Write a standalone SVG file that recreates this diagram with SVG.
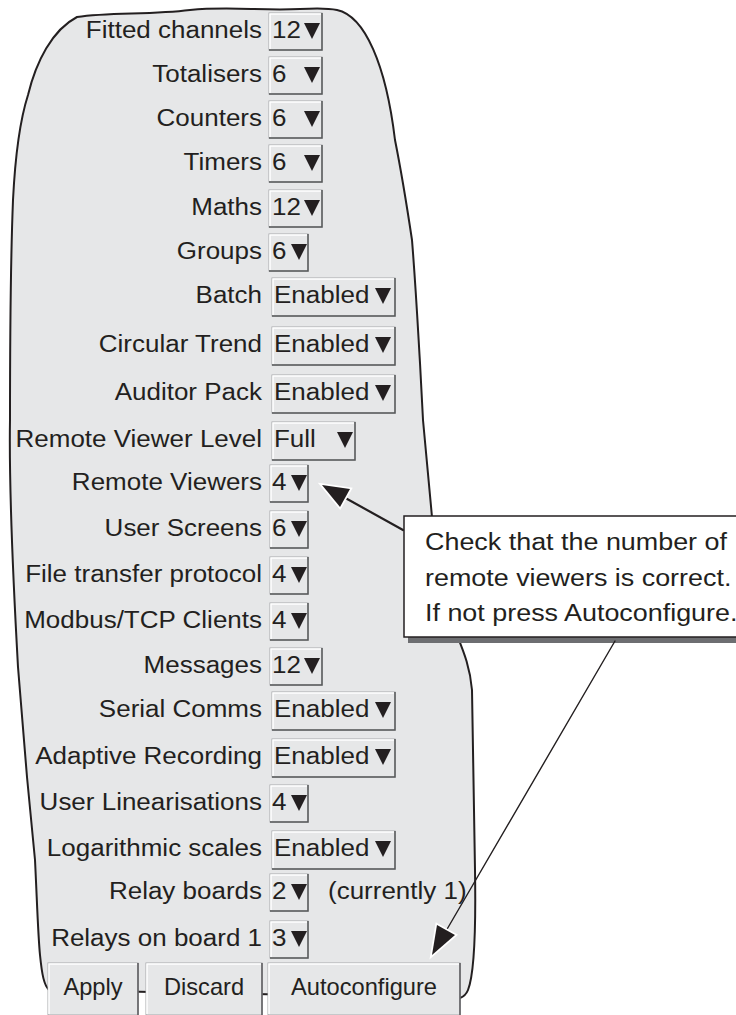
<svg xmlns="http://www.w3.org/2000/svg" width="736" height="1015" viewBox="0 0 736 1015">
<style>
.t{font-family:"Liberation Sans",Arial,Helvetica,sans-serif;font-size:23px;fill:#231f20}
.e{text-anchor:end}
.m{text-anchor:middle}
.fld{fill:#e6e7e8;stroke:#a7a9ac;stroke-width:1}
.hi{fill:none;stroke:#ffffff;stroke-width:1.5}
.sh{fill:none;stroke:#58595b;stroke-width:1.5}
.tri{fill:#231f20}
.panel{fill:#e6e7e8;stroke:#231f20;stroke-width:2}
.btn{fill:#e6e7e8;stroke:#a7a9ac;stroke-width:1}
.ln{fill:none;stroke:#231f20;stroke-linecap:round}
.head{fill:#231f20;stroke:#ffffff;stroke-width:3.5;stroke-linejoin:miter;paint-order:stroke}
</style>
<rect x="0" y="0" width="736" height="1015" fill="#ffffff"/>
<g id="panel">
<path class="panel" d="M77,17 C110,12 150,15 190,10 C230,6 260,11 300,9 C318,8 328,8 337,10 C365,16 386,65 395,140 C401,170 406,200 412,240 C416,290 418,330 420,363 L423,420 L432,517 L455,630 C462,648 470,665 472,690 L475,870 C476,930 474,975 468,990 C466,995 463,997 460,998 L49,990 C44,985 42,975 40,955 C38,935 37,900 35,860 L27,777 L18,667 C12,560 9,480 10,420 C10,320 11,250 13,200 C15,160 20,120 28,95 C36,62 52,30 77,17 Z"/>
</g>
<g id="row-fitted-channels">
<text class="t e" transform="translate(262,38) scale(1.13,1)">Fitted channels</text>
<rect class="fld" x="269" y="13" width="53" height="37"/><path class="hi" d="M270,49 V14 H321"/><path class="sh" d="M322,13 V50 H269"/>
<text class="t" transform="translate(272,38) scale(1.13,1)">12</text>
<polygon class="tri" points="304,23 320,23 312,39"/>
</g>
<g id="row-totalisers">
<text class="t e" transform="translate(262,82) scale(1.13,1)">Totalisers</text>
<rect class="fld" x="269" y="57" width="53" height="37"/><path class="hi" d="M270,93 V58 H321"/><path class="sh" d="M322,57 V94 H269"/>
<text class="t" transform="translate(272,82) scale(1.13,1)">6</text>
<polygon class="tri" points="304,67 320,67 312,83"/>
</g>
<g id="row-counters">
<text class="t e" transform="translate(262,126) scale(1.13,1)">Counters</text>
<rect class="fld" x="269" y="101" width="53" height="37"/><path class="hi" d="M270,137 V102 H321"/><path class="sh" d="M322,101 V138 H269"/>
<text class="t" transform="translate(272,126) scale(1.13,1)">6</text>
<polygon class="tri" points="304,111 320,111 312,127"/>
</g>
<g id="row-timers">
<text class="t e" transform="translate(262,170) scale(1.13,1)">Timers</text>
<rect class="fld" x="269" y="145" width="53" height="37"/><path class="hi" d="M270,181 V146 H321"/><path class="sh" d="M322,145 V182 H269"/>
<text class="t" transform="translate(272,170) scale(1.13,1)">6</text>
<polygon class="tri" points="304,155 320,155 312,171"/>
</g>
<g id="row-maths">
<text class="t e" transform="translate(262,215) scale(1.13,1)">Maths</text>
<rect class="fld" x="269" y="190" width="53" height="37"/><path class="hi" d="M270,226 V191 H321"/><path class="sh" d="M322,190 V227 H269"/>
<text class="t" transform="translate(272,215) scale(1.13,1)">12</text>
<polygon class="tri" points="304,200 320,200 312,216"/>
</g>
<g id="row-groups">
<text class="t e" transform="translate(262,259) scale(1.13,1)">Groups</text>
<rect class="fld" x="269" y="234" width="39" height="37"/><path class="hi" d="M270,270 V235 H307"/><path class="sh" d="M308,234 V271 H269"/>
<text class="t" transform="translate(272,259) scale(1.13,1)">6</text>
<polygon class="tri" points="291,244 307,244 299,260"/>
</g>
<g id="row-batch">
<text class="t e" transform="translate(262,303) scale(1.13,1)">Batch</text>
<rect class="fld" x="272" y="278" width="123" height="38"/><path class="hi" d="M273,315 V279 H394"/><path class="sh" d="M395,278 V316 H272"/>
<text class="t" transform="translate(274,303) scale(1.13,1)">Enabled</text>
<polygon class="tri" points="375,288 391,288 383,304"/>
</g>
<g id="row-circular-trend">
<text class="t e" transform="translate(262,352) scale(1.13,1)">Circular Trend</text>
<rect class="fld" x="272" y="327" width="123" height="38"/><path class="hi" d="M273,364 V328 H394"/><path class="sh" d="M395,327 V365 H272"/>
<text class="t" transform="translate(274,352) scale(1.13,1)">Enabled</text>
<polygon class="tri" points="375,337 391,337 383,353"/>
</g>
<g id="row-auditor-pack">
<text class="t e" transform="translate(262,400) scale(1.13,1)">Auditor Pack</text>
<rect class="fld" x="272" y="375" width="123" height="38"/><path class="hi" d="M273,412 V376 H394"/><path class="sh" d="M395,375 V413 H272"/>
<text class="t" transform="translate(274,400) scale(1.13,1)">Enabled</text>
<polygon class="tri" points="375,385 391,385 383,401"/>
</g>
<g id="row-remote-viewer-level">
<text class="t e" transform="translate(262,447) scale(1.13,1)">Remote Viewer Level</text>
<rect class="fld" x="272" y="422" width="83" height="38"/><path class="hi" d="M273,459 V423 H354"/><path class="sh" d="M355,422 V460 H272"/>
<text class="t" transform="translate(274,447) scale(1.13,1)">Full</text>
<polygon class="tri" points="337,432 353,432 345,448"/>
</g>
<g id="row-remote-viewers">
<text class="t e" transform="translate(262,490) scale(1.13,1)">Remote Viewers</text>
<rect class="fld" x="270" y="465" width="38" height="37"/><path class="hi" d="M271,501 V466 H307"/><path class="sh" d="M308,465 V502 H270"/>
<text class="t" transform="translate(272,490) scale(1.13,1)">4</text>
<polygon class="tri" points="291,475 307,475 299,491"/>
</g>
<g id="row-user-screens">
<text class="t e" transform="translate(262,536) scale(1.13,1)">User Screens</text>
<rect class="fld" x="270" y="511" width="38" height="37"/><path class="hi" d="M271,547 V512 H307"/><path class="sh" d="M308,511 V548 H270"/>
<text class="t" transform="translate(272,536) scale(1.13,1)">6</text>
<polygon class="tri" points="291,521 307,521 299,537"/>
</g>
<g id="row-file-transfer-protocol">
<text class="t e" transform="translate(262,582) scale(1.13,1)">File transfer protocol</text>
<rect class="fld" x="270" y="557" width="38" height="37"/><path class="hi" d="M271,593 V558 H307"/><path class="sh" d="M308,557 V594 H270"/>
<text class="t" transform="translate(272,582) scale(1.13,1)">4</text>
<polygon class="tri" points="291,567 307,567 299,583"/>
</g>
<g id="row-modbus-tcp-clients">
<text class="t e" transform="translate(262,628) scale(1.13,1)">Modbus/TCP Clients</text>
<rect class="fld" x="270" y="603" width="38" height="37"/><path class="hi" d="M271,639 V604 H307"/><path class="sh" d="M308,603 V640 H270"/>
<text class="t" transform="translate(272,628) scale(1.13,1)">4</text>
<polygon class="tri" points="291,613 307,613 299,629"/>
</g>
<g id="row-messages">
<text class="t e" transform="translate(262,673) scale(1.13,1)">Messages</text>
<rect class="fld" x="270" y="648" width="52" height="37"/><path class="hi" d="M271,684 V649 H321"/><path class="sh" d="M322,648 V685 H270"/>
<text class="t" transform="translate(272,673) scale(1.13,1)">12</text>
<polygon class="tri" points="304,658 320,658 312,674"/>
</g>
<g id="row-serial-comms">
<text class="t e" transform="translate(262,717) scale(1.13,1)">Serial Comms</text>
<rect class="fld" x="272" y="692" width="123" height="38"/><path class="hi" d="M273,729 V693 H394"/><path class="sh" d="M395,692 V730 H272"/>
<text class="t" transform="translate(274,717) scale(1.13,1)">Enabled</text>
<polygon class="tri" points="375,702 391,702 383,718"/>
</g>
<g id="row-adaptive-recording">
<text class="t e" transform="translate(262,764) scale(1.13,1)">Adaptive Recording</text>
<rect class="fld" x="272" y="739" width="123" height="38"/><path class="hi" d="M273,776 V740 H394"/><path class="sh" d="M395,739 V777 H272"/>
<text class="t" transform="translate(274,764) scale(1.13,1)">Enabled</text>
<polygon class="tri" points="375,749 391,749 383,765"/>
</g>
<g id="row-user-linearisations">
<text class="t e" transform="translate(262,810) scale(1.13,1)">User Linearisations</text>
<rect class="fld" x="270" y="785" width="38" height="37"/><path class="hi" d="M271,821 V786 H307"/><path class="sh" d="M308,785 V822 H270"/>
<text class="t" transform="translate(272,810) scale(1.13,1)">4</text>
<polygon class="tri" points="291,795 307,795 299,811"/>
</g>
<g id="row-logarithmic-scales">
<text class="t e" transform="translate(262,856) scale(1.13,1)">Logarithmic scales</text>
<rect class="fld" x="272" y="831" width="123" height="38"/><path class="hi" d="M273,868 V832 H394"/><path class="sh" d="M395,831 V869 H272"/>
<text class="t" transform="translate(274,856) scale(1.13,1)">Enabled</text>
<polygon class="tri" points="375,841 391,841 383,857"/>
</g>
<g id="row-relay-boards">
<text class="t e" transform="translate(262,899) scale(1.13,1)">Relay boards</text>
<rect class="fld" x="270" y="874" width="38" height="37"/><path class="hi" d="M271,910 V875 H307"/><path class="sh" d="M308,874 V911 H270"/>
<text class="t" transform="translate(272,899) scale(1.13,1)">2</text>
<polygon class="tri" points="291,884 307,884 299,900"/>
<text class="t" transform="translate(328,899) scale(1.13,1)">(currently 1)</text>
</g>
<g id="row-relays-on-board-1">
<text class="t e" transform="translate(262,946) scale(1.13,1)">Relays on board 1</text>
<rect class="fld" x="270" y="921" width="38" height="37"/><path class="hi" d="M271,957 V922 H307"/><path class="sh" d="M308,921 V958 H270"/>
<text class="t" transform="translate(272,946) scale(1.13,1)">3</text>
<polygon class="tri" points="291,931 307,931 299,947"/>
</g>
<g id="btn-apply">
<rect class="btn" x="48" y="963" width="90" height="52"/><path class="hi" d="M49,1014 V964 H137"/><path class="sh" d="M138,963 V1015"/>
<text class="t m" transform="translate(93,995) scale(1.03,1)">Apply</text>
</g>
<g id="btn-discard">
<rect class="btn" x="146" y="963" width="116" height="52"/><path class="hi" d="M147,1014 V964 H261"/><path class="sh" d="M262,963 V1015"/>
<text class="t m" transform="translate(204,995) scale(1.03,1)">Discard</text>
</g>
<g id="btn-autoconfigure">
<rect class="btn" x="268" y="963" width="192" height="52"/><path class="hi" d="M269,1014 V964 H459"/><path class="sh" d="M460,963 V1015"/>
<text class="t m" transform="translate(364,995) scale(1.03,1)">Autoconfigure</text>
</g>
<g id="callout">
<rect x="408" y="521" width="336" height="122" fill="#6d6e71"/>
<rect x="404" y="516" width="336" height="121" fill="#ffffff" stroke="#231f20" stroke-width="1.5"/>
<text class="t" transform="translate(425,550) scale(1.17,1)">Check that the number of</text>
<text class="t" transform="translate(425,586) scale(1.17,1)">remote viewers is correct.</text>
<text class="t" transform="translate(425,621) scale(1.17,1)">If not press Autoconfigure.</text>
</g>
<g id="connectors">
<line class="ln" x1="403" y1="530" x2="340" y2="495" stroke-width="2.2"/>
<polygon class="head" points="322,485 350,489 340,507"/>
<line class="ln" x1="615" y1="641" x2="446" y2="931" stroke-width="1.4"/>
<polygon class="head" points="432,955 437,925 455,935"/>
</g>
</svg>
